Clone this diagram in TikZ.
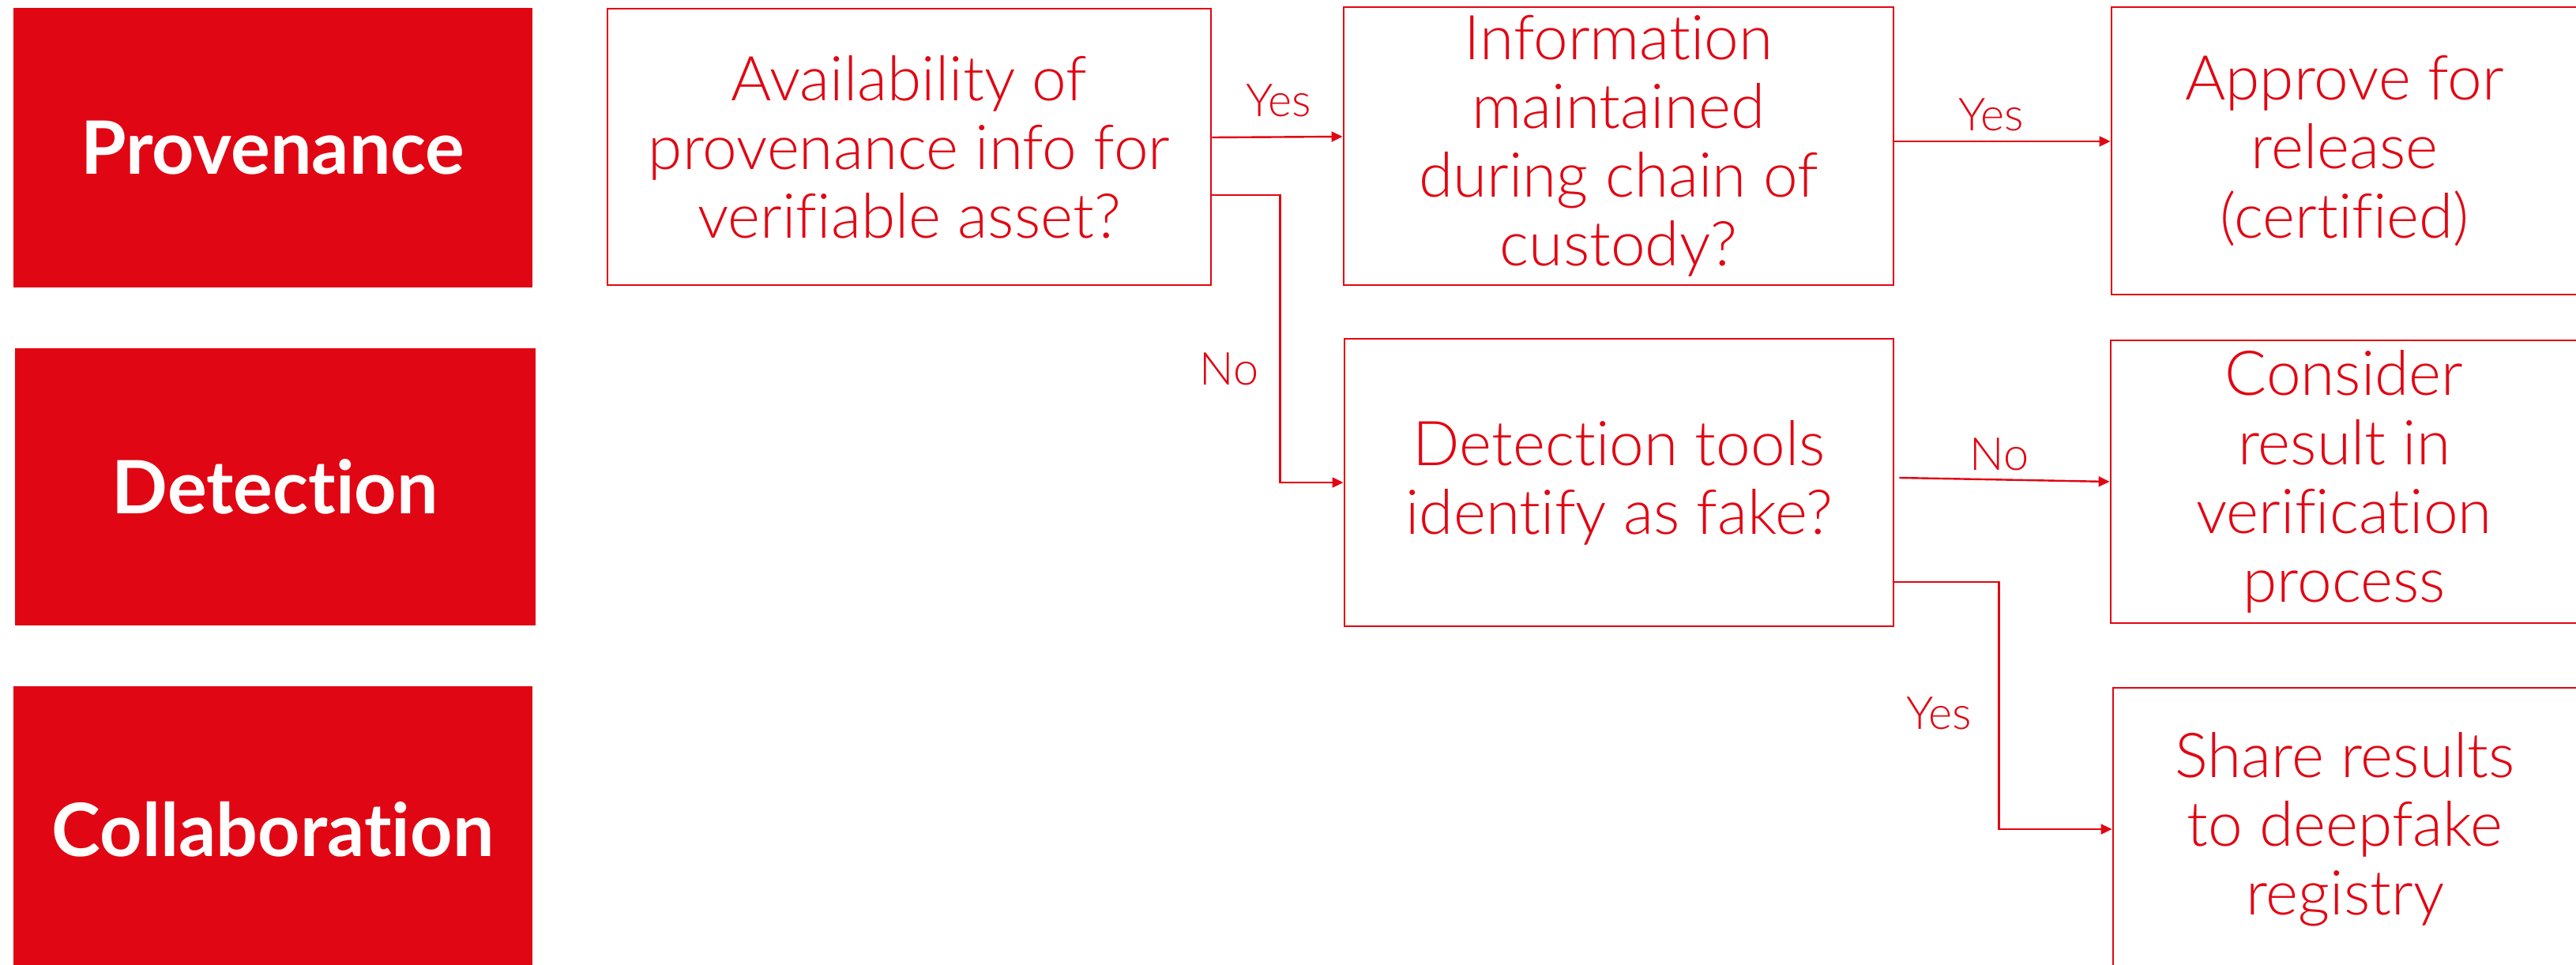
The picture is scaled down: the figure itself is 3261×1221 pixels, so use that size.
\documentclass[tikz,border=0pt]{standalone}
\usepackage{fontspec}
\setmainfont{Lato}[UprightFont=* Light, BoldFont=* Bold, Ligatures=NoCommon]
\usetikzlibrary{arrows.meta}
\definecolor{cred}{RGB}{225,6,19}
\begin{document}
\begin{tikzpicture}[x=0.25pt,y=-0.25pt,
  cat/.style={fill=cred, draw=none, inner sep=0, text=white, font=\fontsize{23.3}{27}\selectfont\bfseries},
  box/.style={draw=cred, line width=0.7pt, inner sep=0, text=cred, align=center, font=\fontsize{19.6}{21.8}\selectfont},
  lbl/.style={text=cred, inner sep=0, font=\fontsize{14.4}{16}\selectfont},
  arr/.style={draw=cred, line width=0.6pt, -{Triangle[length=3.5pt,width=3.2pt]}}]
\useasboundingbox (0,0) rectangle (3261,1221);
\fill[white] (0,0) rectangle (3261,1221);
% category boxes
\node[cat, minimum width=164.25pt, minimum height=88.5pt] (prov) at (345.5,187) {Provenance};
\node[cat, minimum width=164.75pt, minimum height=87.75pt] (det) at (348.5,616.5) {Detection};
\node[cat, minimum width=164.25pt, minimum height=90.5pt] (col) at (345.5,1050) {Collaboration};
% flow boxes
\node[box, minimum width=191pt, minimum height=87.5pt] (q1) at (1151,186) {Availability of\\provenance info for\\verifiable asset?};
\node[box, minimum width=174pt, minimum height=88pt] (q2) at (2049,185) {Information\\maintained\\during chain of\\custody?};
\node[box, minimum width=147.5pt, minimum height=91pt] (app) at (2968,191) {Approve for\\release\\(certified)};
\node[box, minimum width=173.75pt, minimum height=91pt] (q3) at (2049.5,611) {Detection tools\\identify as fake?};
\node[box, minimum width=147.75pt, minimum height=89.5pt] (con) at (2967.5,610) {Consider\\result in\\verification\\process};
\node[box, minimum width=146.75pt, minimum height=89.5pt] (sha) at (2968.5,1050) {Share results\\to deepfake\\registry};
% connectors
\draw[arr] ([yshift=3pt]q1.east) -- ([yshift=3pt]q2.west);
\draw[arr] ([yshift=1.5pt]q2.east) -- ([yshift=1.5pt]q2.east -| app.west);
\draw[arr] ([yshift=-15.25pt]q1.east) -- ++(21.5pt,0) |- (q3.west);
\draw[arr] ([xshift=1.5pt,yshift=1.5pt]q3.east) -- (con.west);
\draw[arr] ([yshift=-31.5pt]q3.east) -- ++(33pt,0) |- (sha.west);
% labels
\node[lbl] (y1) at (1619,127) {Yes};
\node[lbl] (y2) at (2521,145) {Yes};
\node[lbl] (n1) at (1556,467) {No};
\node[lbl] (n2) at (2531,575) {No};
\node[lbl] (y3) at (2455,903) {Yes};
\end{tikzpicture}
\end{document}
